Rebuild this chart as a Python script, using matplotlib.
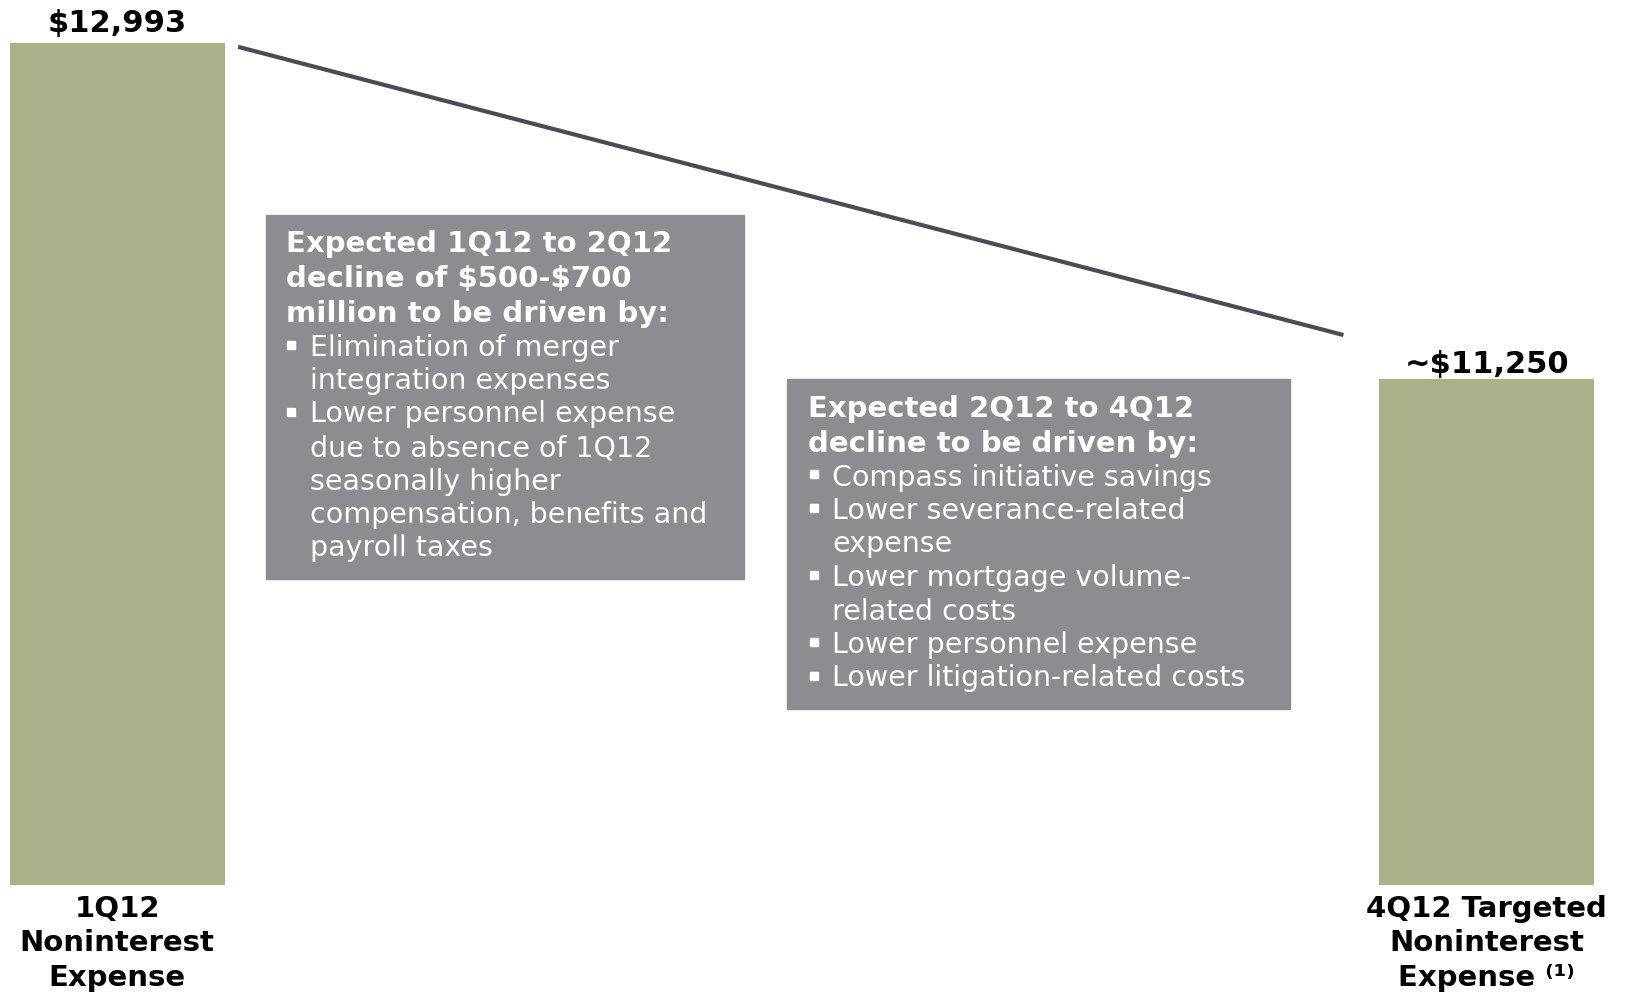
import matplotlib.pyplot as plt

W, H = 1629, 993

# expense levels, $ millions
categories = ["1Q12\nNoninterest\nExpense",
              "4Q12 Targeted\nNoninterest\nExpense \u207d\u00b9\u207e"]
values = [12993, 11250]
value_labels = ["$12,993", "~$11,250"]

box1_head = ["Expected 1Q12 to 2Q12", "decline of $500-$700", "million to be driven by:"]
box1_items = [["Elimination of merger", "integration expenses"],
              ["Lower personnel expense", "due to absence of 1Q12", "seasonally higher",
               "compensation, benefits and", "payroll taxes"]]

box2_head = ["Expected 2Q12 to 4Q12", "decline to be driven by:"]
box2_items = [["Compass initiative savings"],
              ["Lower severance-related", "expense"],
              ["Lower mortgage volume-", "related costs"],
              ["Lower personnel expense"],
              ["Lower litigation-related costs"]]

BAR = "#a9b08a"
BOX = "#8c8d90"
LINE = "#4b4b55"

fig = plt.figure(figsize=(W / 100, H / 100), dpi=100)
ax = fig.add_axes([0, 108 / H, 1, 885 / H])

pos = [0, 1]
width = 0.157
ax.bar(pos, values, width=width, color=BAR)
ax.set_xlim(-0.0855, 1.104)
ax.set_ylim(8625, 13216)

for x, v, lab, off in zip(pos, values, value_labels, [8, 4]):
    ax.annotate(lab.replace("$", r"\$"), (x, v), xytext=(0, off), textcoords="offset points",
                ha="center", va="baseline", fontsize=22, fontweight="bold")

# downward trend line between the two bars
ax.plot([pos[0] + 0.0884, pos[1] - 0.1045], [values[0] - 20, values[1] + 228],
        color=LINE, lw=3, solid_capstyle="butt")

ax.set_xticks(pos, labels=categories)
ax.tick_params(axis="x", length=0, pad=7)
plt.setp(ax.get_xticklabels(), fontsize=21, fontweight="bold", linespacing=1.3,
         multialignment="center")
ax.set_yticks([])
for s in ax.spines.values():
    s.set_visible(False)


def px(x, y):
    return x / W, 1 - y / H


def note_box(x0, y0, x1, y1, head, items, tx, bx, ix, y_first, head_step, step):
    fig.patches.append(plt.Rectangle(px(x0, y1), (x1 - x0) / W, (y1 - y0) / H,
                                     transform=fig.transFigure, color=BOX, zorder=1))
    y = y_first
    for line in head:
        fig.text(*px(tx, y), line.replace("$", r"\$"), color="white", fontsize=21,
                 fontweight="bold", va="baseline", ha="left")
        y += head_step
    y += step - head_step
    for item in items:
        # square bullet
        fig.patches.append(plt.Rectangle(px(bx, y - 7), 8 / W, 8 / H,
                                         transform=fig.transFigure, color="white", zorder=2))
        for line in item:
            fig.text(*px(ix, y), line, color="white", fontsize=20.5, va="baseline", ha="left")
            y += step


note_box(266, 215, 744, 579, box1_head, box1_items, 286, 287, 310, 252, 35, 33.5)
note_box(787, 379, 1290, 709, box2_head, box2_items, 808, 810, 832, 417, 35, 33.5)

fig.savefig("out.png", dpi=100)
